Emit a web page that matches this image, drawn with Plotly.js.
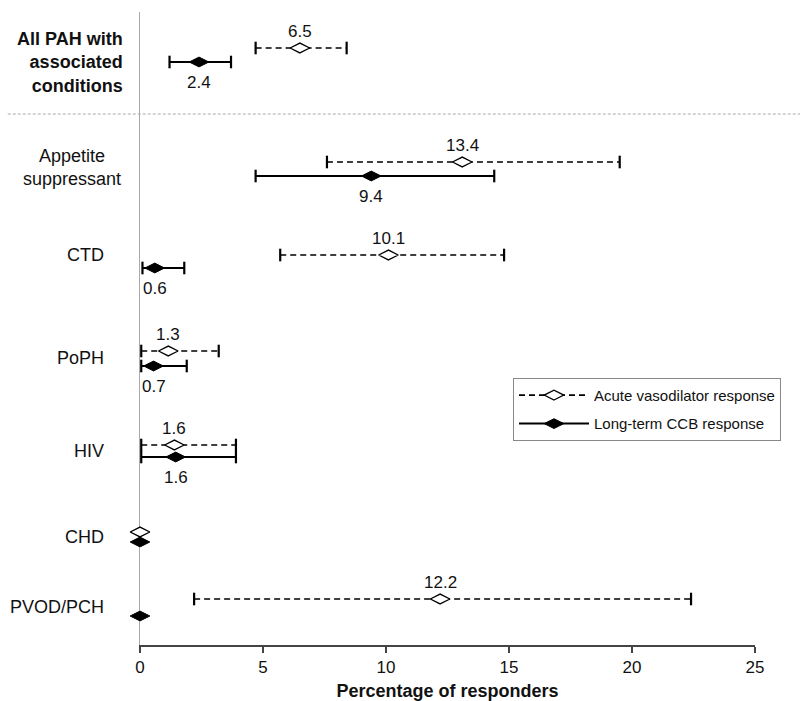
<!DOCTYPE html>
<html>
<head>
<meta charset="utf-8">
<script src="https://cdn.plot.ly/plotly-3.0.1.min.js"></script>
<style>html,body{margin:0;padding:0;background:#fff;}#chart{width:800px;height:701px;}</style>
</head>
<body>
<div id="chart"></div>
<script>
// ---- data ----
var categories = ["All PAH with<br>associated<br>conditions", "Appetite<br>suppressant", "CTD", "PoPH", "HIV", "CHD", "PVOD/PCH"];
var acutePoint = [6.5, 13.1, 10.1, 1.15, 1.4, 0, 12.2];
var acuteLow   = [4.7, 7.6, 5.7, 0.05, 0.05, null, 2.2];
var acuteHigh  = [8.4, 19.5, 14.8, 3.2, 3.9, null, 22.4];
var acuteLabel = ["6.5", "13.4", "10.1", "1.3", "1.6", null, "12.2"];
var ccbPoint = [2.4, 9.4, 0.6, 0.55, 1.45, 0, 0];
var ccbLow   = [1.2, 4.7, 0.1, 0.05, 0.05, null, null];
var ccbHigh  = [3.7, 14.4, 1.8, 1.9, 3.9, null, null];
var ccbLabel = ["2.4", "9.4", "0.6", "0.7", "1.6", null, null];
var xTicks = [0, 5, 10, 15, 20, 25];
var seriesNames = ["Acute vasodilator response", "Long-term CCB response"];

// ---- row layout (vertical placement of each category row, axis units) ----
var rowAcuteY = [48, 162, 255, 351, 445, 532, 599];
var rowCcbY   = [62, 176, 268, 366, 457, 542, 616];
var rowLabelY = [62, 167, 255, 358, 451, 537, 607];
var separatorY = 114;

var FONT = "Liberation Sans, Arial, Helvetica, sans-serif";
var DASH = "6px,4px";

function rangeXY(lo, hi, ys) {
  var x = [], y = [];
  for (var i = 0; i < lo.length; i++) {
    if (lo[i] === null) continue;
    x.push(lo[i], hi[i], null);
    y.push(ys[i], ys[i], null);
  }
  return {x: x, y: y};
}
function pointXY(pts, ys) {
  var x = [], y = [];
  for (var i = 0; i < pts.length; i++) { x.push(pts[i], null); y.push(ys[i], null); }
  return {x: x, y: y};
}

var ar = rangeXY(acuteLow, acuteHigh, rowAcuteY);
var cr = rangeXY(ccbLow, ccbHigh, rowCcbY);
var ap = pointXY(acutePoint, rowAcuteY);
var cp = pointXY(ccbPoint, rowCcbY);

var traces = [
  {x: ar.x, y: ar.y, type: "scatter", mode: "lines+markers", showlegend: false, hoverinfo: "skip", cliponaxis: false,
   line: {color: "#000", width: 1.6, dash: DASH},
   marker: {symbol: "line-ns", size: 9, line: {color: "#000", width: 2.2}}},
  {x: cr.x, y: cr.y, type: "scatter", mode: "lines+markers", showlegend: false, hoverinfo: "skip", cliponaxis: false,
   line: {color: "#000", width: 2},
   marker: {symbol: "line-ns", size: 9, line: {color: "#000", width: 2.2}}},
  {x: ap.x, y: ap.y, type: "scatter", mode: "lines+markers", name: seriesNames[0], legendgroup: "a",
   hoverinfo: "skip", cliponaxis: false, connectgaps: false,
   line: {color: "#000", width: 1.6, dash: DASH},
   marker: {symbol: "diamond-wide", size: 14, color: "#fff", line: {color: "#000", width: 1.3}}},
  {x: cp.x, y: cp.y, type: "scatter", mode: "lines+markers", name: seriesNames[1], legendgroup: "b",
   hoverinfo: "skip", cliponaxis: false, connectgaps: false,
   line: {color: "#000", width: 2},
   marker: {symbol: "diamond-wide", size: 14, color: "#000", line: {color: "#000", width: 1}}}
];

var annotations = [];
for (var i = 0; i < categories.length; i++) {
  if (acuteLabel[i] !== null) annotations.push({x: acutePoint[i], y: rowAcuteY[i], xref: "x", yref: "y", text: acuteLabel[i],
    showarrow: false, yshift: 17, font: {family: FONT, size: 17, color: "#111"}});
  if (ccbLabel[i] !== null) annotations.push({x: ccbPoint[i], y: rowCcbY[i], xref: "x", yref: "y", text: ccbLabel[i],
    showarrow: false, yshift: -20, font: {family: FONT, size: 17, color: "#111"}});
}
// category labels
var catX = [-0.024, -0.027, -0.055, -0.055, -0.055, -0.055, -0.055];
var catAlign = ["right", "center", "right", "right", "right", "right", "right"];
for (var j = 0; j < categories.length; j++) {
  annotations.push({x: catX[j], y: rowLabelY[j], xref: "paper", yref: "y", xanchor: "right", yanchor: "middle",
    text: j === 0 ? "<b>" + categories[j] + "</b>" : categories[j], align: catAlign[j], showarrow: false,
    font: {family: FONT, size: 18, color: "#111"}});
}

var layout = {
  width: 800, height: 701,
  margin: {l: 140, r: 45, t: 12, b: 56},
  paper_bgcolor: "#fff", plot_bgcolor: "#fff",
  font: {family: FONT, color: "#111"},
  xaxis: {range: [0, 25], tickvals: xTicks, ticks: "outside", ticklen: 6, tickwidth: 2, tickcolor: "#444",
    showline: true, linecolor: "#444", linewidth: 2, showgrid: false, zeroline: false,
    tickfont: {family: FONT, size: 17, color: "#111"},
    title: {text: "<b>Percentage of responders</b>", font: {family: FONT, size: 18, color: "#111"}, standoff: 14}},
  yaxis: {range: [645, 12], showline: true, linecolor: "#aaa", linewidth: 1, showticklabels: false,
    showgrid: false, zeroline: false, ticks: "", layer: "below traces"},
  showlegend: true,
  legend: {x: 0.6065, y: 0.422, xanchor: "left", yanchor: "top", bordercolor: "#888", borderwidth: 1,
    bgcolor: "#fff", font: {family: FONT, size: 15, color: "#111"}, traceorder: "grouped", tracegroupgap: 6, itemwidth: 70},
  shapes: [{type: "line", xref: "paper", yref: "y", x0: -0.215, x1: 1.08, y0: separatorY, y1: separatorY,
    line: {color: "#aaa", width: 1, dash: "3px,2px"}}],
  annotations: annotations,
  hovermode: false
};

Plotly.newPlot("chart", traces, layout, {displayModeBar: false, staticPlot: true});
</script>
</body>
</html>
